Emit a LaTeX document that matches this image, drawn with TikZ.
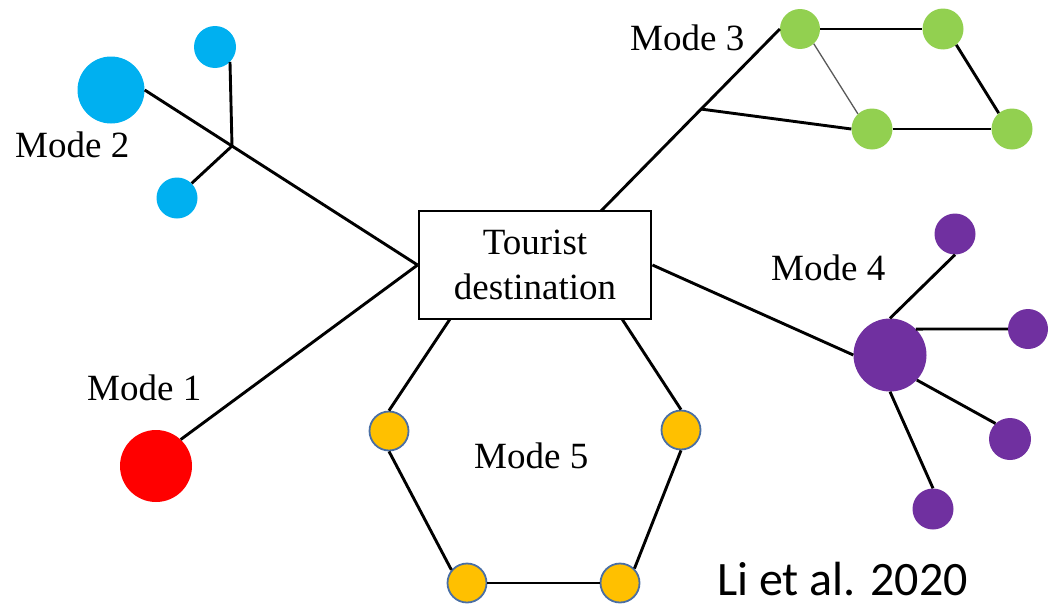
\documentclass[tikz,border=0pt]{standalone}
\usepackage{fontspec}
\setmainfont{Liberation Serif}
\newfontfamily\citefont{Carlito}
\usetikzlibrary{calc}
\definecolor{mblue}{HTML}{00B0F0}
\definecolor{mgreen}{HTML}{92D050}
\definecolor{mpurple}{HTML}{7030A0}
\definecolor{mred}{HTML}{FF0000}
\definecolor{myellow}{HTML}{FFC000}
\definecolor{mborder}{HTML}{4A6FA5}
\tikzset{
  dot/.style={circle,inner sep=0pt,draw=none,minimum size=#1},
  dot/.default=40pt,
  link/.style={line width=2.9pt,black},
  thinlink/.style={line width=1.3pt,black!65},
  lbl/.style={anchor=base west,inner sep=0pt,font=\fontsize{37}{44}\selectfont},
  ydot/.style={circle,inner sep=0pt,minimum size=39pt,fill=myellow,draw=mborder,line width=1.8pt},
}
\begin{document}
\begin{tikzpicture}[x=1pt,y=-1pt]
\useasboundingbox (0,0) rectangle (1049,605);
% central box
\node[draw,line width=2.9pt,minimum width=232pt,minimum height=108pt,inner sep=0pt,align=center,
  font=\fontsize{37}{45}\selectfont] (box) at (535,265) {Tourist\\destination};
\coordinate (bt) at (601,211);
\coordinate (bbl) at (450,319);
\coordinate (bbr) at (622,319);
% Mode 1
\node[dot=72pt,fill=mred] (m1) at (156,466) {};
\node[lbl] (l1) at (87,400) {Mode 1};
\draw[link] (m1.47) -- (box.west);
% Mode 2
\node[dot=67pt,fill=mblue] (m2) at (111,90) {};
\node[dot=42pt,fill=mblue] (m2a) at (215,47) {};
\node[dot=41pt,fill=mblue] (m2b) at (177,198) {};
\coordinate (j2) at (232,146);
\node[lbl] (l2) at (15,157) {Mode 2};
\draw[link] (m2.east) -- (j2) -- (box.west);
\draw[link] (m2a.-45) -- (j2);
\draw[link] (m2b.45) -- (j2);
% Mode 3
\node[dot=40pt,fill=mgreen] (g1) at (800,29) {};
\node[dot=41pt,fill=mgreen] (g2) at (943,29) {};
\node[dot=41pt,fill=mgreen] (g3) at (872,129) {};
\node[dot=41pt,fill=mgreen] (g4) at (1012,129) {};
\node[lbl] (l3) at (630,50) {Mode 3};
\draw[link] (bt) -- (g1.west);
\coordinate (j3) at ($(bt)!0.56!(g1.west)$);
\draw[link] (j3) -- (g3.west);
\draw[link] (g1.east) -- (g2.west);
\draw[link] (g2.-50) -- (g4.130);
\draw[link] (g3.east) -- (g4.west);
\draw[thinlink] (g1.-47) -- (g3.133);
% Mode 4
\node[dot=73pt,fill=mpurple] (hub) at (890,355) {};
\node[dot=41pt,fill=mpurple] (p1) at (955,234) {};
\node[dot=40pt,fill=mpurple] (p2) at (1028,329) {};
\node[dot=42pt,fill=mpurple] (p3) at (1010,439) {};
\node[dot=41pt,fill=mpurple] (p4) at (933,509) {};
\node[lbl] (l4) at (771,280) {Mode 4};
\draw[link] (box.east) -- (hub.west);
\draw[link] (hub.north) -- (p1.south);
\draw[link] (hub.45) -- (p2.west);
\draw[link] (hub.-43) -- (p3.133);
\draw[link] (hub.south) -- (p4.north);
% Mode 5
\node[ydot] (y1) at (389,431) {};
\node[ydot] (y2) at (681,430) {};
\node[ydot] (y3) at (467,583) {};
\node[ydot] (y4) at (620,583) {};
\node[lbl] (l5) at (474,468) {Mode 5};
\draw[link] (bbl) -- (y1.north);
\draw[link] (bbr) -- (y2.north);
\draw[link] (y1.south) -- (y3.140);
\draw[link] (y3.east) -- (y4.west);
\draw[link] (y4.45) -- (y2.south);
% citation
\node[anchor=base west,inner sep=0pt,font=\citefont\fontsize{48}{56}\selectfont] (cit) at (717,595) {Li et al. 2020};
\end{tikzpicture}
\end{document}
